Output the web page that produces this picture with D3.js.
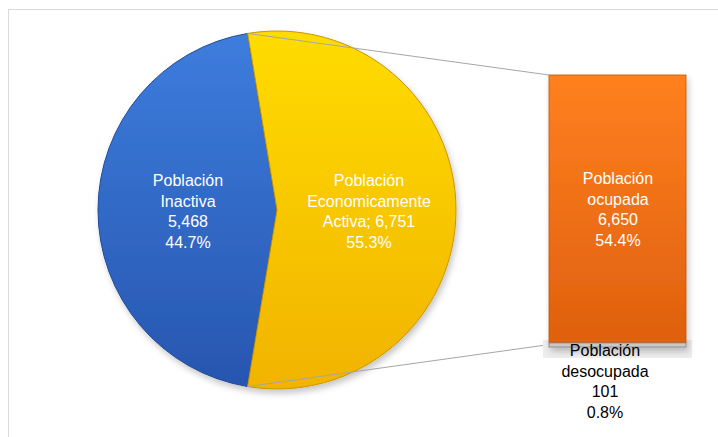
<!DOCTYPE html>
<html>
<head>
<meta charset="utf-8">
<script src="https://cdn.jsdelivr.net/npm/d3@7"></script>
<style>
    html, body { margin: 0; padding: 0; background: #fff; }
    svg#chart { display: block; width: 718px; height: 437px; }
    .label { font-family: "Liberation Sans", Arial, sans-serif; font-size: 16px; text-anchor: middle; }
</style>
</head>
<body>
<svg id="chart"></svg>
<script>
var pieCategories = ["Población Inactiva", "Población Economicamente Activa"],
    pieValues = [5468, 6751],
    pieLabels = [["Población", "Inactiva", "5,468", "44.7%"],
                 ["Población", "Economicamente", "Activa; 6,751", "55.3%"]];

var barCategories = ["Población ocupada", "Población desocupada"],
    barValues = [6650, 101],
    barLabels = [["Población", "ocupada", "6,650", "54.4%"],
                 ["Población", "desocupada", "101", "0.8%"]];

(function () {
    var svg = d3.select("svg#chart"),
        cx = 277, cy = 210, radius = 179,
        bar = {left: 549, width: 137, top: 75, bottom: 347};

    var defs = svg.append("defs");

    function grad(id, top, bottom) {
        var g = defs.append("linearGradient").attr("id", id)
            .attr("x1", 0).attr("y1", 0).attr("x2", 0).attr("y2", 1);
        g.append("stop").attr("offset", "0%").attr("stop-color", top);
        g.append("stop").attr("offset", "100%").attr("stop-color", bottom);
    }
    grad("gBlue", "#3d7ddd", "#2756b0");
    grad("gYellow", "#ffdc00", "#f1b300");
    grad("gOrange", "#ff801f", "#df600e");

    var shadow = defs.append("filter").attr("id", "shadow")
        .attr("x", "-10%").attr("y", "-10%").attr("width", "120%").attr("height", "125%");
    shadow.append("feDropShadow").attr("dx", 2).attr("dy", 4)
        .attr("stdDeviation", 3).attr("flood-color", "#000").attr("flood-opacity", 0.22);

    // chart border
    svg.append("rect")
        .attr("x", 8.5).attr("y", 9.5)
        .attr("width", 730).attr("height", 440)
        .attr("fill", "none").attr("stroke", "#d9d9d9");

    // Pie: the active slice is centred on the right side
    var total = d3.sum(pieValues),
        activeSpan = 2 * Math.PI * pieValues[1] / total,
        start = Math.PI / 2 - activeSpan / 2 - 2 * Math.PI * pieValues[0] / total;

    var pie = d3.pie().sort(null).startAngle(start).endAngle(start + 2 * Math.PI),
        arcs = pie(pieValues),
        arc = d3.arc().innerRadius(0).outerRadius(radius);

    var fills = ["url(#gBlue)", "url(#gYellow)"],
        strokes = ["#1f4a96", "#c99400"];

    var pieG = svg.append("g").attr("transform", "translate(" + cx + "," + cy + ")");

    pieG.append("g").attr("filter", "url(#shadow)")
        .selectAll("path")
        .data(arcs)
        .enter().append("path")
        .attr("d", arc)
        .attr("fill", function (d, i) { return fills[i]; })
        .attr("stroke", function (d, i) { return strokes[i]; })
        .attr("stroke-width", 1);

    // connector lines from the active slice to the bar
    var a0 = arcs[1].startAngle, a1 = arcs[1].endAngle;
    var lines = [
        [[cx + radius * Math.sin(a0), cy - radius * Math.cos(a0)], [bar.left, bar.top]],
        [[cx + radius * Math.sin(a1), cy - radius * Math.cos(a1)], [bar.left - 3, bar.bottom - 2]]
    ];
    svg.selectAll("line.connector")
        .data(lines)
        .enter().append("line")
        .attr("class", "connector")
        .attr("x1", function (d) { return d[0][0]; })
        .attr("y1", function (d) { return d[0][1]; })
        .attr("x2", function (d) { return d[1][0]; })
        .attr("y2", function (d) { return d[1][1]; })
        .attr("stroke", "#a6a6a6").attr("stroke-width", 1);

    // grey box behind the small slice label, partly hidden by the bar
    svg.append("rect")
        .attr("x", 543).attr("y", 340).attr("width", 149).attr("height", 18)
        .attr("fill", "#ededed");

    // Bar of pie
    var y = d3.scaleLinear().domain([0, d3.sum(barValues)]).range([bar.bottom, bar.top]);
    var stack = [
        {y0: barValues[1], y1: barValues[1] + barValues[0], fill: "url(#gOrange)", stroke: "#c0560c"},
        {y0: 0, y1: barValues[1], fill: "#c9c9c9", stroke: "#7f7f7f"}
    ];
    svg.append("g").attr("filter", "url(#shadow)")
        .selectAll("rect")
        .data(stack)
        .enter().append("rect")
        .attr("x", bar.left)
        .attr("width", bar.width)
        .attr("y", function (d) { return y(d.y1); })
        .attr("height", function (d) { return y(d.y0) - y(d.y1); })
        .attr("fill", function (d) { return d.fill; })
        .attr("stroke", function (d) { return d.stroke; })
        .attr("stroke-width", 0.8);

    // Labels
    function multiline(x, y0, lines, color) {
        var t = svg.append("text").attr("class", "label").attr("fill", color);
        lines.forEach(function (l, i) {
            t.append("tspan").attr("x", x).attr("y", y0 + i * 20.7).text(l);
        });
    }

    multiline(188, 186, pieLabels[0], "#fff");
    multiline(369, 186, pieLabels[1], "#fff");
    multiline(618, 184, barLabels[0], "#fff");
    multiline(605, 356, barLabels[1], "#000");
})();
</script>
</body>
</html>
